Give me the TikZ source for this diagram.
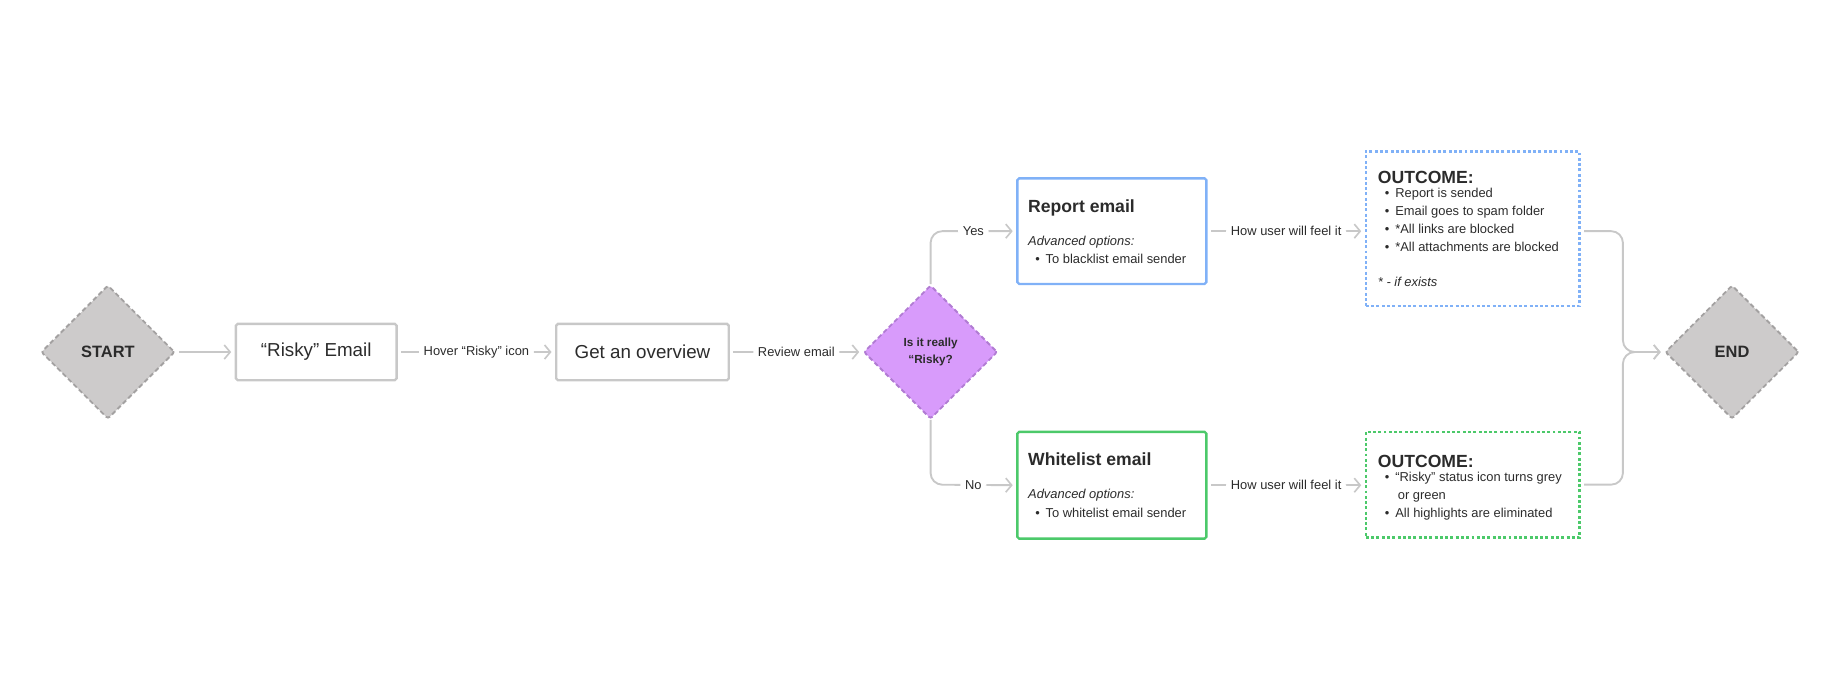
\documentclass[tikz,border=0pt]{standalone}
\usepackage{fontspec}
\setmainfont{Liberation Sans}
\usetikzlibrary{arrows.meta,shapes.geometric}
\definecolor{lg}{HTML}{C8C8C8}
\definecolor{txt}{HTML}{2B2B2B}
\definecolor{dgf}{HTML}{CDCBCB}
\definecolor{dgb}{HTML}{A3A1A1}
\definecolor{purf}{HTML}{D89BFB}
\definecolor{purb}{HTML}{B17BD3}
\definecolor{blu}{HTML}{80B1F7}
\definecolor{grn}{HTML}{4CC96A}
\begin{document}
\begin{tikzpicture}[x=1pt,y=-1pt,text=txt,
  dia/.style={diamond,minimum width=114pt,minimum height=114pt,inner sep=0pt,draw=dgb,fill=dgf,line width=1.6pt,dash pattern=on 4pt off 2.5pt,rounded corners=2pt,font=\bfseries\fontsize{14}{16}\selectfont},
  box/.style={draw=lg,line width=2pt,rounded corners=1.5pt,inner sep=0pt,font=\fontsize{16}{19}\selectfont},
  conn/.style={draw=lg,line width=1.6pt,-{Straight Barb[length=5pt,width=12pt,line width=1.4pt]},rounded corners=10pt},
  lbl/.style={fill=white,inner sep=4pt,font=\fontsize{11}{13}\selectfont},
  btxt/.style={anchor=north west,align=left,inner sep=0pt,font=\fontsize{11}{15.5}\selectfont},
  ttl/.style={anchor=base west,inner sep=0pt,font=\bfseries\fontsize{15}{18}\selectfont}]
\useasboundingbox (0,0) rectangle (1568,588);
% nodes
\node[dia] (start) at (92,300) {START};
\node[box,minimum width=137pt,minimum height=48pt] (risky) at (269.5,300) {“Risky” Email};
\node[box,minimum width=147pt,minimum height=48pt] (over) at (547.5,300) {Get an overview};
\node[dia,fill=purf,draw=purb,align=center,font=\bfseries\fontsize{10}{15}\selectfont] (dec) at (793,300) {Is it really\\“Risky?};
\node[dia] (end) at (1476,300) {END};
% report
\node[box,draw=blu,minimum width=161pt,minimum height=90pt] (rep) at (947.5,197) {};
\node[ttl] (rept) at (876,181) {Report email};
\node[btxt] (repo) at (876,201) {\itshape Advanced options:\\[0pt]\hspace*{6pt}\textbullet\hspace{5pt}To blacklist email sender};
% whitelist
\node[box,draw=grn,minimum width=161pt,minimum height=91pt] (wht) at (947.5,413.5) {};
\node[ttl] (whtt) at (876,397) {Whitelist email};
\node[btxt] (whto) at (876,417) {\itshape Advanced options:\\[0pt]\hspace*{6pt}\textbullet\hspace{5pt}To whitelist email sender};
% outcomes
\node[draw=blu,line width=2pt,dash pattern=on 2.5pt off 2pt,minimum width=182pt,minimum height=132pt,inner sep=0pt] (out1) at (1255,195) {};
\node[ttl] (o1t) at (1174,156) {OUTCOME:};
\node[btxt] (o1b) at (1174,160) {\hspace*{6pt}\textbullet\hspace{5pt}Report is sended\\
\hspace*{6pt}\textbullet\hspace{5pt}Email goes to spam folder\\
\hspace*{6pt}\textbullet\hspace{5pt}*All links are blocked\\
\hspace*{6pt}\textbullet\hspace{5pt}*All attachments are blocked\\[14pt]
\textit{* - if exists}};
\node[draw=grn,line width=2pt,dash pattern=on 2.5pt off 2pt,minimum width=182pt,minimum height=90pt,inner sep=0pt] (out2) at (1255,413) {};
\node[ttl] (o2t) at (1174,398) {OUTCOME:};
\node[btxt] (o2b) at (1174,402) {\hspace*{6pt}\textbullet\hspace{5pt}“Risky” status icon turns grey\\
\hspace*{17pt}or green\\
\hspace*{6pt}\textbullet\hspace{5pt}All highlights are eliminated};
% connectors
\draw[conn,shorten <=3pt,shorten >=3pt] (start) -- (risky);
\draw[conn,shorten <=3pt,shorten >=3pt] (risky) -- node[lbl]{Hover “Risky” icon} (over);
\draw[conn,shorten <=3pt,shorten >=3pt] (over) -- node[lbl]{Review email} (dec);
\draw[conn,shorten >=3pt] (dec.north) -- (793,197) -- node[lbl,pos=0.5]{Yes} (rep.west);
\draw[conn,shorten >=3pt] (dec.south) -- (793,413) -- node[lbl,pos=0.5]{No} (wht.west);
\draw[conn,shorten <=3pt,shorten >=3pt] (rep.east) -- node[lbl]{How user will feel it} (out1.west |- rep.east);
\draw[conn,shorten <=3pt,shorten >=3pt] (wht.east) -- node[lbl]{How user will feel it} (out2.west |- wht.east);
\draw[conn,shorten <=3pt,shorten >=3pt] (out1.east |- rep.east) -- (1383,197) -- (1383,300) -- (end.west);
\draw[conn,shorten <=3pt,shorten >=3pt] (out2.east) -- (1383,413) -- (1383,300) -- (end.west);
\end{tikzpicture}
\end{document}
